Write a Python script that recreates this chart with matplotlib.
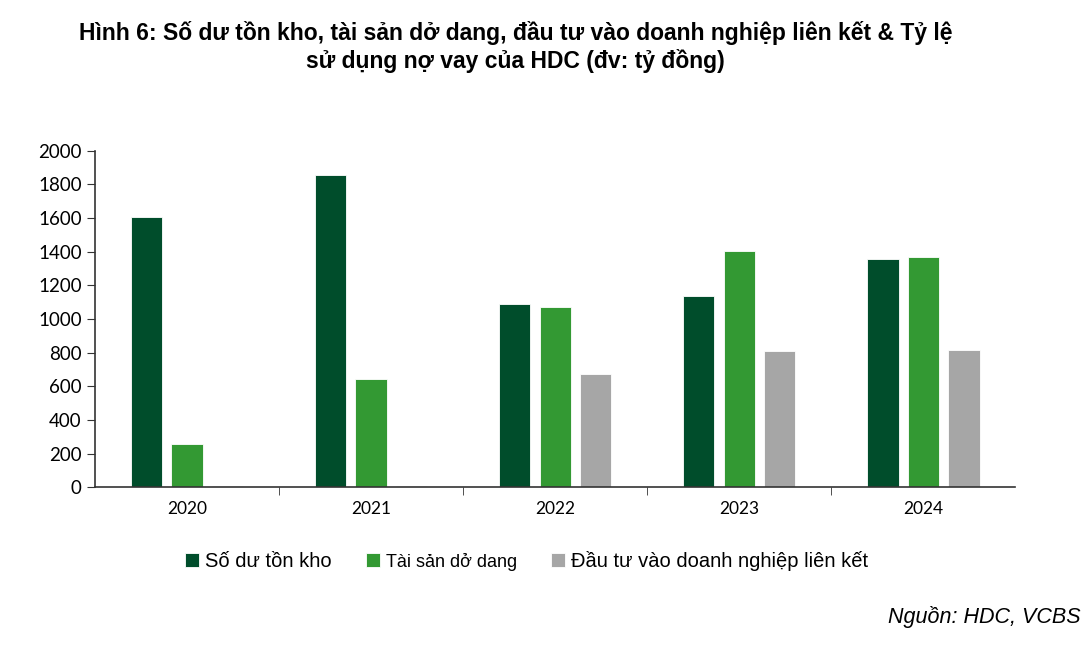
import matplotlib.pyplot as plt
import numpy as np

years = ['2020', '2021', '2022', '2023', '2024']
ton_kho = [1607, 1857, 1089, 1137, 1357]
do_dang = [256, 643, 1071, 1405, 1369]
lien_ket = [5, 5, 673, 810, 815]
series_names = ['Số dư tồn kho', 'Tài sản dở dang', 'Đầu tư vào doanh nghiệp liên kết']
colors = ['#004d2b', '#339933', '#a6a6a6']

fig = plt.figure(figsize=(10.88, 6.47), dpi=100)
ax = fig.add_axes([0.0873, 0.247, 0.846, 0.52])

x = np.arange(len(years))
w = 0.17
off = 0.22
for vals, name, col, d in zip([ton_kho, do_dang, lien_ket], series_names, colors, [-off, 0, off]):
    ax.bar(x + d, vals, w, color=col, label=name, edgecolor='white', linewidth=0.6)

ax.set_xlim(-0.5, 4.5)
ax.set_ylim(0, 2000)
ax.set_yticks(range(0, 2001, 200))
ax.set_yticklabels([str(v) for v in range(0, 2001, 200)], fontsize=13.5, family='Lato')
ax.set_xticks(x)
ax.set_xticklabels(years, fontsize=12.5, family='Lato')
ax.set_xticks(np.arange(0.5, 4.5, 1), minor=True)
ax.tick_params(axis='x', which='major', length=0, pad=10)
ax.tick_params(axis='x', which='minor', length=6, direction='out', color='#333333')
ax.tick_params(axis='y', length=6, direction='out', color='#333333')
for s in ['top', 'right']:
    ax.spines[s].set_visible(False)
for s in ['left', 'bottom']:
    ax.spines[s].set_color('#333333')
    ax.spines[s].set_linewidth(1.2)

fig.text(0.474, 0.968, 'Hình 6: Số dư tồn kho, tài sản dở dang, đầu tư vào doanh nghiệp liên kết & Tỷ lệ\nsử dụng nợ vay của HDC (đv: tỷ đồng)',
         ha='center', va='top', fontsize=16.5, fontweight='bold', family='Liberation Sans', linespacing=1.2)

leg = fig.legend(loc='center left', bbox_to_anchor=(0.153, 0.133), ncol=3, frameon=False,
                 handlelength=0.7, handleheight=0.7, handletextpad=0.3, columnspacing=1.7,
                 prop={'family': 'Liberation Sans', 'size': 14.5})
for t, sz in zip(leg.get_texts(), [14.5, 13, 14.5]):
    t.set_fontsize(sz)

fig.text(0.993, 0.03, 'Nguồn: HDC, VCBS', ha='right', va='bottom', fontsize=15.5,
         style='italic', family='Liberation Sans')

fig.savefig('out.png', dpi=100)
